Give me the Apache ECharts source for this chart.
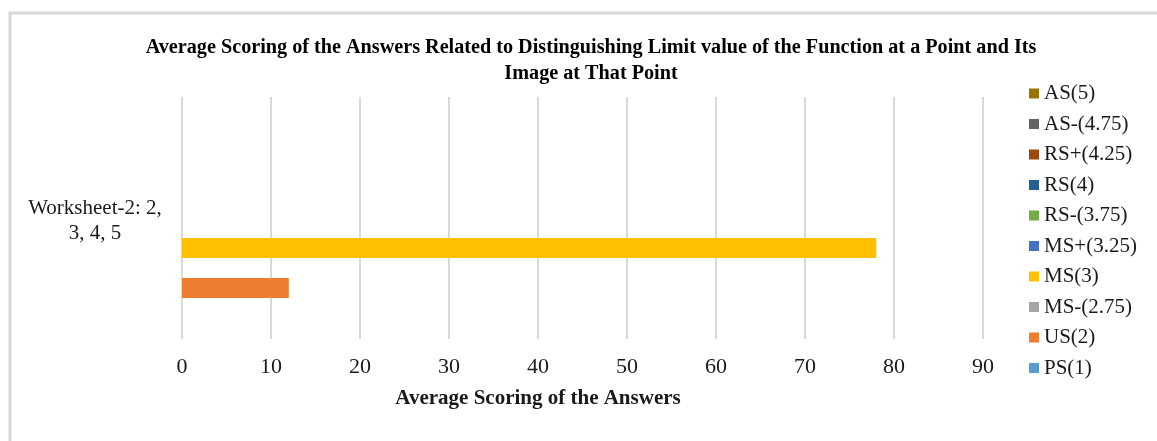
<!DOCTYPE html>
<html>
<head>
<meta charset="utf-8">
<script src="https://cdn.jsdelivr.net/npm/echarts@6/dist/echarts.min.js"></script>
<style>
html,body{margin:0;padding:0;background:#fff;}
#chart{width:1157px;height:441px;}
</style>
</head>
<body>
<div id="chart"></div>
<script>
const categories = ["Worksheet-2: 2, 3, 4, 5"];
const seriesNames = ["PS(1)", "US(2)", "MS-(2.75)", "MS(3)", "MS+(3.25)", "RS-(3.75)", "RS(4)", "RS+(4.25)", "AS-(4.75)", "AS(5)"];
const seriesValues = [
  [0],   // PS(1)
  [12],  // US(2)
  [0],   // MS-(2.75)
  [78],  // MS(3)
  [0],   // MS+(3.25)
  [0],   // RS-(3.75)
  [0],   // RS(4)
  [0],   // RS+(4.25)
  [0],   // AS-(4.75)
  [0]    // AS(5)
];
const seriesColors = ["#5B9BD5", "#ED7D31", "#A5A5A5", "#FFC000", "#4472C4", "#70AD47", "#255E91", "#9E480E", "#636363", "#997300"];
const titleText = "Average Scoring of the Answers Related to Distinguishing Limit value of the Function at a Point and Its\nImage at That Point";
const xAxisName = "Average Scoring of the Answers";

const FONT = "'Liberation Serif', 'Times New Roman', serif";
const TXT = '#1a1a1a';
const chart = echarts.init(document.getElementById('chart'), null, {renderer: 'canvas'});

// ECharts stacks the first series at the top of a horizontal band; Excel puts it at the bottom,
// so series are added in reverse order.
const series = seriesNames.map((name, i) => ({
  name: name,
  type: 'bar',
  data: seriesValues[i],
  barWidth: 20,
  barGap: '0%',
  itemStyle: {color: seriesColors[i]},
  emphasis: {disabled: true}
})).reverse();

chart.setOption({
  animation: false,
  backgroundColor: '#fff',
  textStyle: {fontFamily: FONT},
  graphic: [{
    type: 'rect',
    shape: {x: 10, y: 13, width: 1300, height: 600},
    style: {fill: 'none', stroke: '#d9d9d9', lineWidth: 3},
    silent: true,
    z: -10
  }],
  title: {
    text: titleText,
    left: 586,
    textAlign: 'center',
    top: 30,
    textStyle: {fontFamily: FONT, fontSize: 20.2, fontWeight: 'bold', color: '#000', lineHeight: 26}
  },
  legend: {
    orient: 'vertical',
    left: 1024,
    top: 78,
    itemWidth: 10,
    itemHeight: 10,
    itemGap: 9.5,
    icon: 'rect',
    data: seriesNames.slice().reverse(),
    textStyle: {fontFamily: FONT, fontSize: 21, color: TXT, lineHeight: 21}
  },
  grid: {left: 182, right: 174, top: 97, bottom: 102, containLabel: false},
  xAxis: {
    type: 'value',
    min: 0,
    max: 90,
    interval: 10,
    name: xAxisName,
    nameLocation: 'middle',
    nameGap: 49,
    nameTextStyle: {fontFamily: FONT, fontSize: 21, fontWeight: 'bold', color: TXT, padding: [0, 89, 0, 0]},
    axisLine: {show: false},
    axisTick: {show: false},
    axisLabel: {fontFamily: FONT, fontSize: 22, color: TXT, margin: 17},
    splitLine: {show: true, lineStyle: {color: '#d9d9d9', width: 2}}
  },
  yAxis: {
    type: 'category',
    data: categories,
    axisLine: {show: false},
    axisTick: {show: false},
    splitLine: {show: false},
    axisLabel: {
      fontFamily: FONT, fontSize: 21, color: TXT,
      align: 'center', margin: 87,
      formatter: function (v) {
        const parts = v.replace('2, 3', '2,\n3').split('\n');
        return '{a|' + parts[0] + '}\n{a|' + parts[1] + '}';
      },
      rich: {
        a: {fontFamily: FONT, fontSize: 21, color: TXT, lineHeight: 25, padding: [6, 0, 0, 0]}
      }
    }
  },
  series: series
});
</script>
</body>
</html>
